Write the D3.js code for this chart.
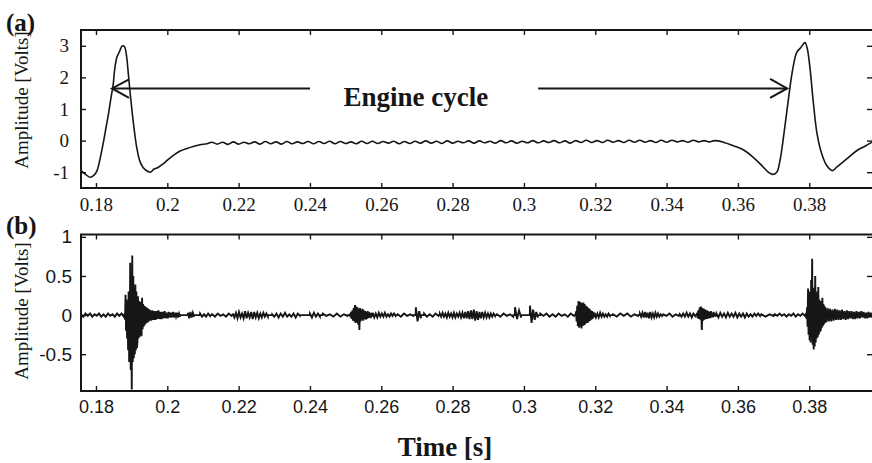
<!DOCTYPE html>
<html>
<head>
<meta charset="utf-8">
<script src="https://cdn.jsdelivr.net/npm/d3@7.9.0/dist/d3.min.js"></script>
<style>
  html, body { margin: 0; padding: 0; background: #fff; }
  svg { display: block; }
</style>
</head>
<body>
<svg id="chart" width="872" height="463"></svg>
<script>
// ---- data ----
const xTicks = [0.18, 0.2, 0.22, 0.24, 0.26, 0.28, 0.3, 0.32, 0.34, 0.36, 0.38];
const topYTicks = [-1, 0, 1, 2, 3];
const botYTicks = [-0.5, 0, 0.5, 1];

// (a) first pulse
const pulse1T = [0.1758, 0.1769, 0.1783, 0.1794, 0.1803, 0.1811, 0.1820, 0.1828, 0.1835, 0.1842,
  0.1848, 0.1853, 0.1859, 0.1866, 0.1874, 0.1880, 0.1886, 0.1890, 0.1895, 0.1904,
  0.1914, 0.1923, 0.1932, 0.1943, 0.1953, 0.1963, 0.1974, 0.1988, 0.2002, 0.2019,
  0.2036, 0.2055, 0.2075, 0.2092, 0.2111];
const pulse1V = [-0.95, -1.05, -1.16, -1.1, -0.95, -0.6, -0.1, 0.4, 0.84, 1.35,
  1.75, 2.3, 2.65, 2.82, 3.0, 2.97, 2.65, 2.2, 1.6, 0.65,
  -0.2, -0.65, -0.85, -0.96, -1.0, -0.9, -0.85, -0.74, -0.6, -0.45,
  -0.33, -0.25, -0.18, -0.13, -0.1];

// (a) flat part with small ripple, sampled every rippleStep seconds
const rippleStart = 0.2125;
const rippleStep = 0.0015;
const rippleV = [
  -0.05, -0.11, -0.05, -0.12, -0.04, -0.11, -0.05, -0.10, -0.04, -0.11,
  -0.03, -0.10, -0.04, -0.11, -0.03, -0.10, -0.04, -0.09, -0.03, -0.10,
  -0.03, -0.09, -0.02, -0.10, -0.03, -0.09, -0.04, -0.10, -0.02, -0.09,
  -0.02, -0.09, -0.03, -0.08, -0.02, -0.10, -0.03, -0.09, -0.02, -0.08,
  -0.01, -0.08, -0.02, -0.09, -0.01, -0.08, -0.02, -0.07, -0.01, -0.08,
  -0.01, -0.07, -0.02, -0.08, 0.00, -0.07, -0.01, -0.08, -0.02, -0.07,
  0.00, -0.07, -0.01, -0.06, 0.00, -0.07, -0.01, -0.08, 0.00, -0.06,
  0.01, -0.06, 0.00, -0.06, 0.01, -0.05, 0.00, -0.06, 0.01, -0.05,
  0.01, -0.05, 0.00, -0.06, 0.01, -0.05, 0.01, -0.04, 0.00, -0.05,
  0.01, -0.04, 0.00, -0.04, 0.00];

// (a) second pulse
const pulse2T = [0.3559, 0.3587, 0.3615, 0.3643, 0.3667, 0.3685, 0.3697, 0.3709, 0.3718, 0.3729,
  0.3741, 0.3753, 0.3765, 0.3776, 0.3788, 0.3794, 0.3802, 0.3811, 0.3822, 0.3835,
  0.3849, 0.3865, 0.3877, 0.3905, 0.3933, 0.3956, 0.3976];
const pulse2V = [-0.05, -0.16, -0.29, -0.53, -0.79, -1.0, -1.07, -1.0, -0.63, 0.21,
  1.26, 2.21, 2.79, 2.94, 3.1, 2.94, 2.31, 1.26, 0.21, -0.42,
  -0.79, -0.95, -0.84, -0.58, -0.32, -0.18, -0.05];

// (b) vibration signal: stretches of oscillation, each spread evenly from start to end
const burstStart = [0.1758, 0.1880, 0.1952, 0.2058, 0.2092, 0.2126, 0.2184, 0.2294, 0.2400, 0.2436,
  0.2512, 0.2576, 0.2646, 0.2697, 0.2720, 0.2764, 0.2925, 0.2975, 0.3017, 0.3046,
  0.3146, 0.3198, 0.3250, 0.3325, 0.3391, 0.3437, 0.3485, 0.3540, 0.3666, 0.3704,
  0.3791, 0.3845];
const burstEnd = [0.1878, 0.1951, 0.2036, 0.2075, 0.2120, 0.2180, 0.2282, 0.2372, 0.2428, 0.2505,
  0.2574, 0.2640, 0.2690, 0.2711, 0.2760, 0.2919, 0.2970, 0.2992, 0.3039, 0.3140,
  0.3196, 0.3241, 0.3320, 0.3387, 0.3434, 0.3480, 0.3538, 0.3662, 0.3700, 0.3788,
  0.3844, 0.3976];
const burstVals = [
  [0.01, -0.02, 0.02, -0.01, 0.02, -0.02, 0.01, -0.01, 0.02, -0.02, 0.01, -0.02, 0.02, -0.01, 0.01, -0.02, 0.02, -0.01, 0.02, -0.02],
  [0.02, -0.06, 0.26, -0.2, 0.2, -0.3, 0.15, -0.45, 0.3, -0.6, -0.55, 0.67, -0.7, 0.5, -0.95, 0.76, -0.6, 0.5, -0.55, 0.35,
   -0.5, 0.39, -0.45, 0.3, -0.42, -0.35, 0.24, -0.3, 0.18, -0.28, 0.16, -0.25, 0.17, -0.27, 0.22, -0.18, 0.14, -0.15, 0.12, -0.13,
   0.11, -0.11, 0.1, -0.1, 0.09, -0.09, 0.08, -0.08, 0.07, -0.07],
  [0.06, -0.07, 0.06, -0.06, 0.05, -0.06, 0.05, -0.05, 0.06, -0.05, 0.04, -0.05, 0.04, -0.04, 0.05, -0.04, 0.03, -0.04, 0.04, -0.03,
   0.03, -0.03, 0.04, -0.03, 0.03, -0.02, 0.03, -0.03, 0.02, -0.02],
  [0.03, -0.04, 0.04, -0.03, 0.03, -0.02],
  [0.02, -0.02, 0.01, -0.02, 0.02, -0.01],
  [0.01, -0.02, 0.02, -0.01, 0.01, -0.02, 0.02, -0.01],
  [0.02, -0.03, 0.03, -0.04, 0.04, -0.03, 0.02, -0.04, 0.05, -0.04, 0.03, -0.03, 0.04, -0.05, 0.04, -0.03, 0.03, -0.04, 0.02, -0.03,
   0.03, -0.02, 0.02, -0.02],
  [0.01, -0.02, 0.02, -0.03, 0.02, -0.02, 0.03, -0.02, 0.01, -0.02, 0.02, -0.03, 0.02, -0.01],
  [0.02, -0.03, 0.03, -0.02, 0.02, -0.02],
  [0.02, -0.01, 0.01, -0.02, 0.02, -0.02, 0.01, -0.01],
  [0.02, -0.03, 0.04, -0.05, 0.06, -0.07, 0.09, -0.08, 0.13, -0.1, 0.11, -0.09, 0.1, -0.12, 0.08, -0.19, 0.09, -0.08, 0.07, -0.06,
   0.08, -0.07, 0.06, -0.05, 0.05, -0.06, 0.04, -0.05, 0.05, -0.04, 0.04, -0.03, 0.03, -0.04, 0.03, -0.02],
  [0.03, -0.03, 0.02, -0.03, 0.03, -0.02, 0.02, -0.02, 0.03, -0.02, 0.01, -0.02, 0.02, -0.01, 0.02, -0.01],
  [0.01, -0.02, 0.02, -0.01, 0.01, -0.01],
  [0.1, -0.08, 0.05, -0.04],
  [0.02, -0.02, 0.01, -0.02, 0.02, -0.01],
  [0.02, -0.02, 0.03, -0.02, 0.02, -0.03, 0.03, -0.02, 0.02, -0.03, 0.03, -0.03, 0.02, -0.02, 0.03, -0.03, 0.03, -0.04, 0.04, -0.04,
   0.05, -0.05, 0.06, -0.05, 0.07, -0.07, 0.05, -0.06, 0.04, -0.04, 0.04, -0.03, 0.03, -0.03, 0.02, -0.03, 0.02, -0.02, 0.02, -0.01],
  [0.01, -0.02, 0.02, -0.01, 0.01, -0.02],
  [0.1, -0.05, 0.06, -0.03],
  [0.12, -0.1, 0.07, -0.06, 0.04, -0.03],
  [0.02, -0.01, 0.02, -0.02, 0.01, -0.02, 0.02, -0.01, 0.01, -0.02, 0.02, -0.01],
  [0.05, -0.08, 0.12, -0.14, 0.18, -0.16, 0.17, -0.15, 0.16, -0.17, 0.15, -0.14, 0.16, -0.13, 0.14, -0.12, 0.12, -0.1, 0.11, -0.1,
   0.09, -0.08, 0.08, -0.07, 0.06, -0.06, 0.05, -0.05, 0.04, -0.03],
  [0.03, -0.03, 0.02, -0.03, 0.03, -0.02, 0.02, -0.02, 0.01, -0.02, 0.02, -0.01],
  [0.01, -0.02, 0.02, -0.01, 0.02, -0.02, 0.01, -0.01],
  [0.02, -0.02, 0.03, -0.03, 0.04, -0.03, 0.03, -0.04, 0.04, -0.03, 0.02, -0.03, 0.03, -0.02, 0.02, -0.02, 0.01, -0.01],
  [0.01, -0.01, 0.02, -0.02, 0.01, -0.01],
  [0.01, -0.02, 0.02, -0.02, 0.03, -0.02, 0.02, -0.03, 0.02, -0.01],
  [0.03, -0.04, 0.06, -0.05, 0.1, -0.06, 0.11, -0.19, 0.09, -0.07, 0.08, -0.06, 0.07, -0.05, 0.06, -0.05, 0.05, -0.04, 0.04, -0.04,
   0.05, -0.03, 0.03, -0.03, 0.04, -0.02, 0.02, -0.02],
  [0.02, -0.03, 0.03, -0.02, 0.02, -0.03, 0.03, -0.02, 0.02, -0.02, 0.03, -0.03, 0.02, -0.02, 0.02, -0.03, 0.02, -0.02, 0.01, -0.02,
   0.02, -0.01, 0.02, -0.01],
  [0.01, -0.02, 0.01, -0.01],
  [0.01, -0.01, 0.02, -0.01, 0.01, -0.02, 0.01, -0.01, 0.02, -0.02, 0.01, -0.01, 0.02, -0.01],
  [0.03, -0.05, 0.1, -0.15, 0.34, -0.25, 0.3, -0.32, 0.2, -0.35, 0.45, -0.3, 0.72, -0.38, 0.35, -0.44, 0.3, -0.4, 0.5, -0.35,
   0.3, -0.3, 0.25, -0.28, 0.36, -0.25, 0.2, -0.22, 0.18, -0.2, 0.15, -0.16, 0.22, -0.14, 0.14, -0.12, 0.12, -0.1],
  [0.1, -0.09, 0.09, -0.08, 0.08, -0.08, 0.07, -0.07, 0.08, -0.06, 0.07, -0.06, 0.06, -0.06, 0.07, -0.05, 0.05, -0.06, 0.06, -0.05,
   0.05, -0.04, 0.05, -0.05, 0.04, -0.05, 0.05, -0.04, 0.04, -0.04, 0.05, -0.03, 0.04, -0.04, 0.03, -0.04, 0.04, -0.03, 0.03, -0.03]
];

// annotation (data units of panel a)
const arrowY = 1.65;
const arrowLeft = [0.1845, 0.24];
const arrowRight = [0.304, 0.3738];
const annoText = 'Engine cycle';

// ---- layout ----
const svg = d3.select('#chart');
const left = 81, right = 872;
const topA = 30, botA = 188;
const topB = 234.5, botB = 391;

const x = d3.scaleLinear().domain([0.1758, 0.3976]).range([left, right]);
const yA = d3.scaleLinear().domain([-1.5, 3.5]).range([botA, topA]);
const yB = d3.scaleLinear().domain([-0.97, 1.03]).range([botB, topB]);

const serif = '"Liberation Serif", "Times New Roman", serif';
const sans = '"Liberation Sans", Arial, sans-serif';
const ink = '#161616';

// clip paths
const defs = svg.append('defs');
defs.append('clipPath').attr('id', 'clipA').append('rect')
  .attr('x', left).attr('y', topA).attr('width', right - left).attr('height', botA - topA);
defs.append('clipPath').attr('id', 'clipB').append('rect')
  .attr('x', left).attr('y', topB).attr('width', right - left).attr('height', botB - topB);

// ---- build series ----
const seriesA = [];
pulse1T.forEach((t, i) => seriesA.push([t, pulse1V[i]]));
rippleV.forEach((v, i) => seriesA.push([rippleStart + i * rippleStep, v]));
pulse2T.forEach((t, i) => seriesA.push([t, pulse2V[i]]));

// each stretch starts and ends on the zero line so the quiet gaps stay flat
const seriesB = [];
burstVals.forEach((vals, k) => {
  const t0 = burstStart[k], t1 = burstEnd[k];
  const n = vals.length;
  seriesB.push([t0 - 0.00005, 0]);
  vals.forEach((v, i) => {
    seriesB.push([t0 + (t1 - t0) * (n > 1 ? i / (n - 1) : 0), v]);
  });
  seriesB.push([t1 + 0.00005, 0]);
});

// ---- panel drawing helper ----
function drawPanel(yScale, y0, y1, ticksY, tickFont, tickSizeX, tickSizeY, padX, padY) {
  const g = svg.append('g');

  // bottom axis with labels
  g.append('g')
    .attr('transform', `translate(0,${y1})`)
    .call(d3.axisBottom(x).tickValues(xTicks).tickSize(-5).tickPadding(padX).tickFormat(d => String(d)))
    .call(a => a.select('.domain').remove())
    .call(a => a.selectAll('text').attr('font-family', tickFont).attr('font-size', tickSizeX).attr('fill', ink));

  // top axis ticks only
  g.append('g')
    .attr('transform', `translate(0,${y0})`)
    .call(d3.axisTop(x).tickValues(xTicks).tickSize(-5).tickFormat(''))
    .call(a => a.select('.domain').remove());

  // left axis with labels
  g.append('g')
    .attr('transform', `translate(${left},0)`)
    .call(d3.axisLeft(yScale).tickValues(ticksY).tickSize(-5).tickPadding(padY).tickFormat(d => String(d)))
    .call(a => a.select('.domain').remove())
    .call(a => a.selectAll('text').attr('font-family', tickFont).attr('font-size', tickSizeY).attr('fill', ink));

  // right axis ticks only
  g.append('g')
    .attr('transform', `translate(${right},0)`)
    .call(d3.axisRight(yScale).tickValues(ticksY).tickSize(-5).tickFormat(''))
    .call(a => a.select('.domain').remove());

  g.selectAll('.tick line').attr('stroke', ink).attr('stroke-width', 1.4);

  // frame
  g.append('rect')
    .attr('x', left).attr('y', y0)
    .attr('width', right - left + 4).attr('height', y1 - y0)
    .attr('fill', 'none').attr('stroke', ink).attr('stroke-width', 2);
  return g;
}

drawPanel(yA, topA, botA, topYTicks, serif, 19, 19, 10, 12);
drawPanel(yB, topB, botB, botYTicks, sans, 18, 19, 9, 9);

// ---- traces ----
svg.append('path')
  .datum(seriesA)
  .attr('clip-path', 'url(#clipA)')
  .attr('fill', 'none')
  .attr('stroke', ink)
  .attr('stroke-width', 1.6)
  .attr('stroke-linejoin', 'round')
  .attr('d', d3.line().curve(d3.curveCatmullRom.alpha(0.5)).x(d => x(d[0])).y(d => yA(d[1])));

svg.append('path')
  .datum(seriesB)
  .attr('clip-path', 'url(#clipB)')
  .attr('fill', 'none')
  .attr('stroke', ink)
  .attr('stroke-width', 1.9)
  .attr('stroke-linejoin', 'miter')
  .attr('d', d3.line().x(d => x(d[0])).y(d => yB(d[1])));

// ---- annotation ----
const ay = yA(arrowY);
const anno = svg.append('g').attr('stroke', ink).attr('stroke-width', 2).attr('fill', 'none');
anno.append('line').attr('x1', x(arrowLeft[0])).attr('x2', x(arrowLeft[1])).attr('y1', ay).attr('y2', ay);
anno.append('line').attr('x1', x(arrowRight[0])).attr('x2', x(arrowRight[1])).attr('y1', ay).attr('y2', ay);
const lt = x(arrowLeft[0]), rt = x(arrowRight[1]);
anno.append('path').attr('d', `M${lt + 17},${ay - 9} L${lt},${ay} L${lt + 17},${ay + 9.5}`);
anno.append('path').attr('d', `M${rt - 17},${ay - 9.5} L${rt},${ay} L${rt - 17},${ay + 9.5}`);

svg.append('text')
  .attr('x', x(0.2697)).attr('y', yA(1.1))
  .attr('text-anchor', 'middle')
  .attr('font-family', serif).attr('font-weight', 'bold').attr('font-size', 27)
  .attr('fill', ink)
  .text(annoText);

// ---- labels ----
function yLabel(cy) {
  svg.append('text')
    .attr('transform', `translate(28,${cy}) rotate(-90)`)
    .attr('text-anchor', 'middle')
    .attr('font-family', serif).attr('font-size', 19)
    .attr('fill', ink)
    .text('Amplitude [Volts]');
}
yLabel(100);
yLabel(311);

svg.append('text').attr('x', 6).attr('y', 31)
  .attr('font-family', serif).attr('font-weight', 'bold').attr('font-size', 25)
  .attr('fill', ink).text('(a)');
svg.append('text').attr('x', 6).attr('y', 234)
  .attr('font-family', serif).attr('font-weight', 'bold').attr('font-size', 25)
  .attr('fill', ink).text('(b)');

svg.append('text')
  .attr('x', 445).attr('y', 456)
  .attr('text-anchor', 'middle')
  .attr('font-family', serif).attr('font-weight', 'bold').attr('font-size', 27)
  .attr('fill', ink)
  .text('Time [s]');
</script>
</body>
</html>
